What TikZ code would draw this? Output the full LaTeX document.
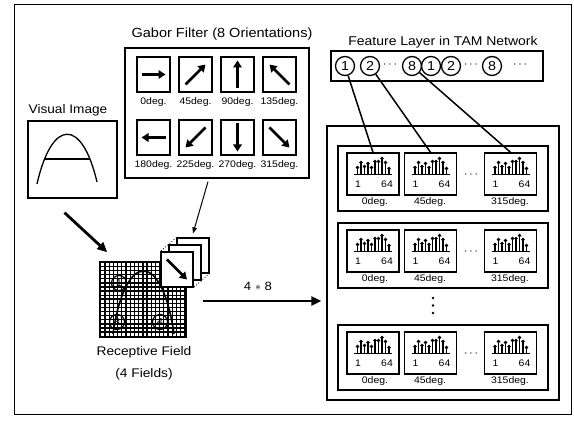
\documentclass[tikz,border=0pt]{standalone}
\usepackage{fontspec}
\setmainfont[FakeStretch=1.1]{Liberation Sans}
\usetikzlibrary{arrows.meta,calc}
\newcommand\fsz[1]{\fontsize{#1}{#1}\selectfont}
\newcommand\histcell[3]{%
  \node[cellbox] (#1) at (#2,#3) {};
  \begin{scope}[shift={(#2,#3)}]
    \draw[line width=1.2pt] (-19,0.5) -- (19,0.5);
    \foreach \sx/\sh in {-15.5/7,-12/12,-8.5/8,-5/11,-1.5/7,2/13,5.5/13,9/16,12.5/12,16/6} {
      \draw[line width=1.1pt] (\sx,0.5) -- (\sx,{0.5-\sh});
      \fill (\sx,{0.5-\sh}) circle (1.9pt);
    }
    \node[lbl] at (-15,10.5) {1};
    \node[lbl] at (14,10.5) {64};
  \end{scope}}
\begin{document}
\begin{tikzpicture}[x=1pt,y=-1pt,
  lbl/.style={font=\fsz{9.5}, inner sep=0},
  frame/.style={draw, line width=1.3pt, inner sep=0},
  gsq/.style={draw, line width=1.1pt, minimum width=33pt, minimum height=35pt, inner sep=0, fill=white},
  garrow/.style={line width=2.8pt, -{Triangle[length=7pt,width=8.5pt]}},
  thickarrow/.style={line width=2.8pt, -{Triangle[length=10pt,width=9pt]}},
  thinarrow/.style={line width=1pt, -{Triangle[length=6pt,width=4.5pt]}},
  cellbox/.style={draw, line width=1.4pt, minimum width=52pt, minimum height=42pt, inner sep=0},
  grp/.style={draw, line width=1.4pt, minimum width=210pt, minimum height=65pt, inner sep=0},
  fc/.style={circle, draw, line width=1.3pt, minimum size=19pt, inner sep=0, font=\fsz{13}},
  rfc/.style={circle, draw, line width=1.2pt, minimum size=15pt, inner sep=0, font=\fsz{10}},
  conn/.style={line width=1.5pt}]
\useasboundingbox (0,0) rectangle (574,427);
% outer frame
\draw[line width=1pt] (14,5) rectangle (571,415);

% Gabor filter
\node[font=\fsz{13.2}] (gt) at (222,34) {Gabor Filter (8 Orientations)};
\node[frame, minimum width=184pt, minimum height=130pt] (gb) at (217,113) {};
\foreach \i/\x/\y/\ax/\ay/\t in {1/153.5/74.5/12/0/0, 2/195.5/74.5/10/-10/45, 3/237.5/74.5/0/-14/90, 4/279.5/74.5/-10/-10/135,
  5/153.5/137.5/-12/0/180, 6/195.5/137.5/-10/10/225, 7/237.5/137.5/0/14/270, 8/279.5/137.5/10/10/315} {
  \node[gsq] (g\i) at (\x,\y) {};
  \draw[garrow] ($(g\i)-(\ax,\ay)$) -- ($(g\i)+(\ax,\ay)$);
  \node[lbl] (gl\i) at (\x,\y+27.5) {\t deg.};
}

% Visual image
\node[font=\fsz{12.4}] (vt) at (68,110) {Visual Image};
\node[frame, minimum width=89pt, minimum height=77pt] (vi) at (72.5,159.5) {};
\draw[line width=1.3pt] (37,184) .. controls (52,118) and (82,118) .. (97,182);
\draw[line width=1.3pt] (44,159) -- (90,159);

% Receptive field
\node[draw, line width=1.5pt, fill=black, minimum width=86pt, minimum height=75pt, inner sep=0] (rf) at (143,299.5) {};
\foreach \i in {0,...,19} \foreach \j in {0,...,17}
  \fill[white] (101.4+\i*4.2, 263.1+\j*4.1) rectangle ++(2.9,2.8);
\draw[line width=2pt] (rf.north) -- (rf.south);
\draw[line width=2pt] (rf.west) -- (rf.east);
\draw[line width=1.6pt] (113,334) .. controls (125,250) and (162,250) .. (174,334);
\node[rfc] (c1) at (119,283) {1};
\node[rfc] (c3) at (117,322) {3};
\node[rfc] (c4) at (160,322) {4};
\node[font=\fsz{12.5}] (rt1) at (144,352) {Receptive Field};
\node[font=\fsz{12.5}] (rt2) at (144,374) {(4 Fields)};

% filter stack
\node[gsq, minimum width=32pt] (f3) at (193,255.5) {};
\node[gsq, minimum width=32pt] (f2) at (185,262.5) {};
\draw[line width=0.8pt, dotted] (f3.north west) -- ++(-16,14);
\draw[line width=0.8pt, dotted] (f3.south east) -- ++(-16,14);
\node[gsq, minimum width=32pt] (f1) at (177,269.5) {};
\draw[garrow] ($(f1)-(10,10)$) -- ($(f1)+(10,10)$);

% arrows on the left
\draw[thickarrow] ([xshift=-8pt,yshift=-14pt]vi.south) -- ([xshift=8pt,yshift=9pt]rf.north west);
\draw[thinarrow] ([xshift=-9pt,yshift=-3pt]gb.south) -- ([yshift=4pt]f3.north);

% 4*8 arrow
\node[font=\fsz{12}] (n48) at (258,286) {4 $*$ 8};
\coordinate (a48) at (203,301);

% Feature layer
\node[font=\fsz{12.7}] (ft) at (443,42) {Feature Layer in TAM Network};
\node[frame, minimum width=212pt, minimum height=30pt] (fl) at (437,66) {};
\node[fc] (n1) at (345,66) {1};
\node[fc] (n2) at (370,66) {2};
\node[font=\fsz{12}] (d1) at (390,65) {$\cdots$};
\node[fc] (n8) at (412,66) {8};
\node[fc] (m1) at (431,66) {1};
\node[fc] (m2) at (451,66) {2};
\node[font=\fsz{12}] (d2) at (471,65) {$\cdots$};
\node[fc] (m8) at (492,66) {8};
\node[font=\fsz{12}] (d3) at (520,65) {$\cdots$};

% big box
\node[frame, minimum width=232pt, minimum height=274pt] (bb) at (443,263) {};
\draw[thickarrow, shorten >=5pt] (a48) -- (a48 -| bb.west);

\foreach \r/\t in {1/146, 2/223, 3/325} {
  \node[grp] (grp\r) at (443,\t+32.5) {};
  \histcell{h\r a}{373}{\t+28}
  \histcell{h\r b}{430.5}{\t+28}
  \histcell{h\r c}{510.5}{\t+28}
  \node[lbl] at (375,\t+56) {0deg.};
  \node[lbl] at (430,\t+56) {45deg.};
  \node[lbl] at (510,\t+56) {315deg.};
  \node[font=\fsz{12}] at (471,\t+29) {$\cdots$};
}
\foreach \yy in {298,305.5,313} \fill (433,\yy) circle (1.4pt);

% connections
\draw[conn] (n1) -- (h1a.north);
\draw[conn] (n2) -- (h1b.north);
\draw[conn] (n8) -- (h1c.north);
\end{tikzpicture}
\end{document}
